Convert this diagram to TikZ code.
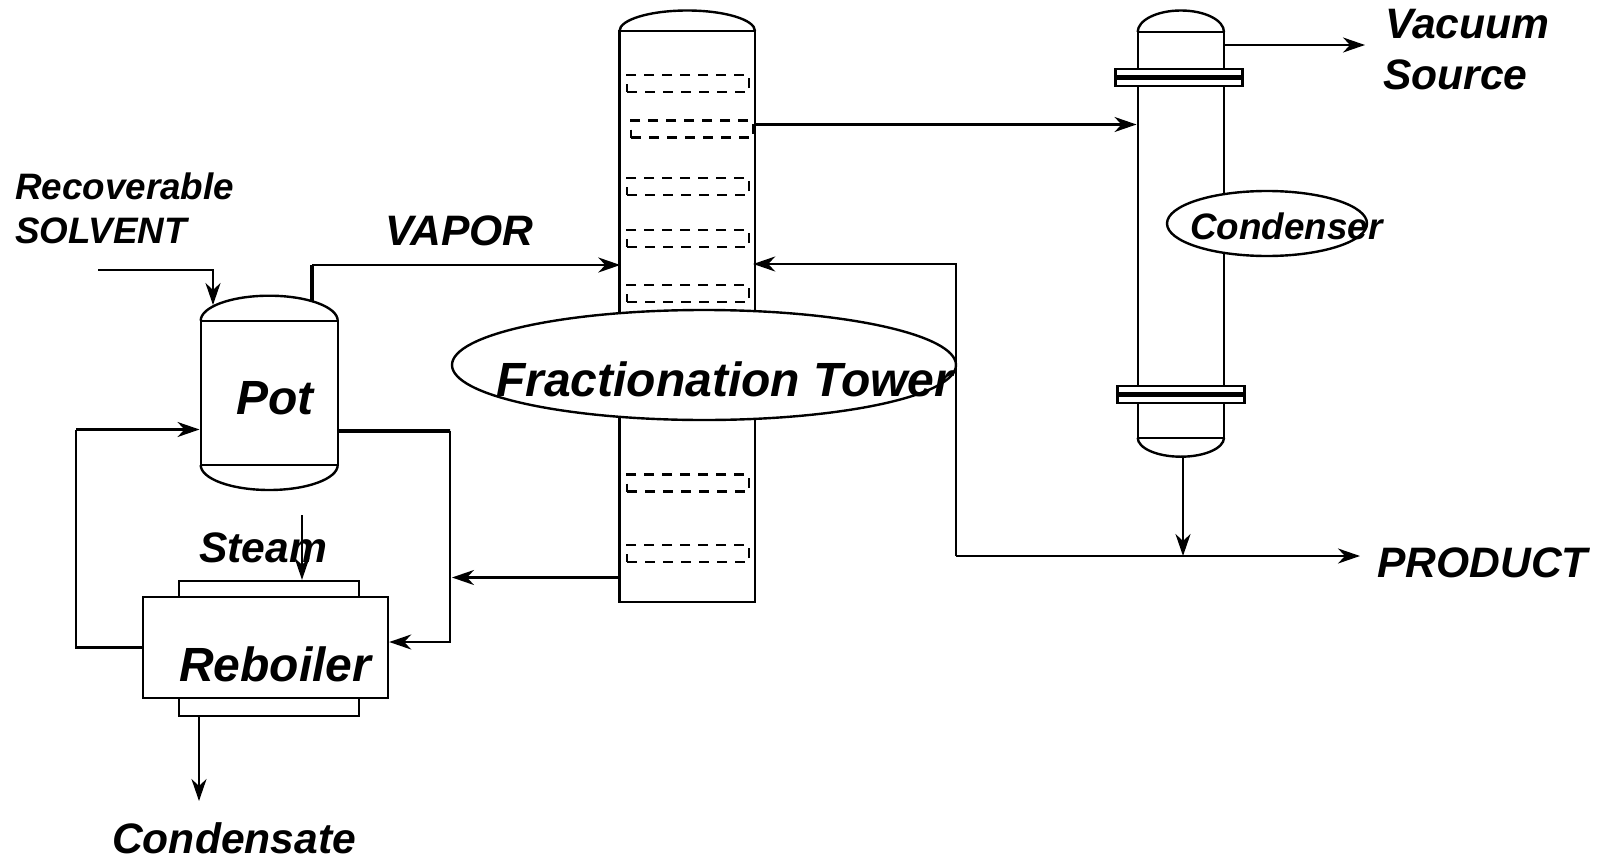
\documentclass[tikz,border=0pt]{standalone}
\usepackage{fontspec}
\setmainfont{Liberation Sans}
\usetikzlibrary{positioning, shapes.geometric, arrows.meta}
\tikzstyle{vessel} = [rectangle, draw=black, line width=2.4pt, inner sep=0pt, fill=white]
\tikzstyle{tray} = [rectangle, draw=black, line width=2.4pt, dash pattern=on 10pt off 8pt, inner sep=0pt, minimum width=122pt, minimum height=17pt]
\tikzstyle{flange} = [vessel, minimum width=127pt, minimum height=17pt]
\tikzstyle{oval} = [ellipse, draw=black, line width=2.4pt, fill=white, inner sep=0pt]
\tikzstyle{arrow} = [line width=2.4pt,->,>={Stealth[length=22pt,width=15pt,inset=7pt]}]
\tikzstyle{line} = [line width=2.4pt]
\tikzstyle{heavy} = [line width=3.6pt]
\tikzstyle{large} = [anchor=base west, inner sep=0pt, font=\fontsize{48}{48}\selectfont\bfseries\itshape]
\tikzstyle{medium} = [anchor=base west, inner sep=0pt, font=\fontsize{42.6}{42.6}\selectfont\bfseries\itshape]
\tikzstyle{small} = [anchor=base west, inner sep=0pt, font=\fontsize{36.8}{36.8}\selectfont\bfseries\itshape]
\NewDocumentCommand\Tray{m m m}{%
    \node (#1) [tray] at (#2,#3) {};
}
\NewDocumentCommand\Flange{m m m}{%
    \node (#1) [flange] at (#2,#3) {};
    \draw[line width=4.5pt] (#1.west) -- (#1.east);
}
\begin{document}
\begin{tikzpicture}[x=1pt, y=-1pt]
\useasboundingbox (0,0) rectangle (1600,859);

% Tower
\draw[line] (619.5,31) arc[start angle=180, end angle=360, x radius=67.75, y radius=20.5];
\node (TOWER) [vessel, minimum width=135.5pt, minimum height=571pt] at (687.25,316.5) {};
\Tray{TRAY1}{688}{83.5}
\Tray{TRAY2}{692}{129}
\Tray{TRAY3}{688}{186.5}
\Tray{TRAY4}{688}{238.5}
\Tray{TRAY5}{688}{293.5}
\Tray{TRAY6}{688}{483}
\Tray{TRAY7}{688}{553.5}

% Pot
\draw[line] (200.7,320.7) arc[start angle=180, end angle=360, x radius=68.5, y radius=25];
\draw[line] (200.7,465) arc[start angle=180, end angle=0, x radius=68.5, y radius=25];
\node (POT) [vessel, minimum width=137pt, minimum height=144.3pt] at (269.2,392.85) {};
\coordinate (POT_TOP) at (213,305);
\coordinate (POT_OUT) at (312,302);

% Reboiler
\node (JACKET_TOP) [vessel, minimum width=180.5pt, minimum height=16pt] at (269,589) {};
\node (JACKET_BOT) [vessel, minimum width=180.5pt, minimum height=18pt] at (269,707) {};
\node (REBOILER) [vessel, minimum width=245pt, minimum height=101pt] at (265.5,647.5) {};

% Condenser
\draw[line] (1137.7,32) arc[start angle=180, end angle=360, x radius=43.15, y radius=21.5];
\draw[line] (1137.7,437.7) arc[start angle=180, end angle=0, x radius=43.15, y radius=19];
\node (CONDENSER) [vessel, minimum width=86.3pt, minimum height=405.7pt] at (1180.85,234.85) {};
\Flange{FLANGE1}{1179}{77.5}
\Flange{FLANGE2}{1181}{394.5}
\coordinate (CONDENSER_BOT) at (1183,457);

% Free ends and corners
\coordinate (SOLVENT_IN) at (98,270);
\coordinate (VAPOR_CORNER) at (312,265);
\coordinate (LOOP_CORNER) at (76,429.5);
\coordinate (POT_CORNER) at (450,431);
\coordinate (STEAM_IN) at (302,515);
\coordinate (CONDENSATE_OUT) at (199,801);
\coordinate (RETURN_END) at (452,577.5);
\coordinate (REFLUX_CORNER) at (956,264);
\coordinate (PRODUCT_START) at (956,556);
\coordinate (PRODUCT_OUT) at (1360,556);
\coordinate (VACUUM_OUT) at (1365,45);

% Arrows
\draw[arrow] (SOLVENT_IN) -| (POT_TOP);
\draw[heavy] (POT_OUT) -- (VAPOR_CORNER);
\draw[arrow] (VAPOR_CORNER) -- ([xshift=2pt,yshift=51.5pt]TOWER.west);
\draw[line] (REBOILER.west) -| (LOOP_CORNER);
\draw[arrow] (LOOP_CORNER) -- (POT.west |- LOOP_CORNER);
\draw[heavy] ([yshift=-38.1pt]POT.east) -- (POT_CORNER);
\draw[arrow] (POT_CORNER) |- ([yshift=5.5pt]REBOILER.east);
\draw[arrow] (TOWER.west |- RETURN_END) -- (RETURN_END);
\draw[arrow] (TOWER.east |- 0,124.5) -- (CONDENSER.west |- 0,124.5);
\draw[arrow] (CONDENSER.east |- 0,45) -- (VACUUM_OUT);
\draw[arrow] (CONDENSER_BOT) -- (CONDENSER_BOT |- PRODUCT_START);
\draw[arrow] (PRODUCT_START) -- (PRODUCT_OUT);
\draw[arrow] (PRODUCT_START) -- (REFLUX_CORNER) -- ([xshift=-3pt]TOWER.east |- REFLUX_CORNER);
\draw[arrow] (JACKET_BOT.south -| CONDENSATE_OUT) -- (CONDENSATE_OUT);

% Ovals and labels
\node (TOWER_OVAL) [oval, minimum width=504pt, minimum height=110pt] at (704,365) {};
\node (CONDENSER_OVAL) [oval, minimum width=200pt, minimum height=65pt] at (1267,223.5) {};

\node (TOWER_TEXT) [large] at (496,396) {Fractionation Tower};
\node (POT_TEXT) [large] at (236,414) {Pot};
\node (REBOILER_TEXT) [large] at (179,681) {Reboiler};
\node (STEAM_TEXT) [medium] at (199,562) {Steam};
\node (VAPOR_TEXT) [medium] at (385,245) {VAPOR};
\node (CONDENSATE_TEXT) [medium] at (112,853) {Condensate};
\node (PRODUCT_TEXT) [medium] at (1377,577) {PRODUCT};
\node (VACUUM_TEXT) [medium] at (1385,38) {Vacuum};
\node (SOURCE_TEXT) [medium] at (1383,89) {Source};
\node (RECOVERABLE_TEXT) [small] at (15,199) {Recoverable};
\node (SOLVENT_TEXT) [small] at (15,243) {SOLVENT};
\node (CONDENSER_TEXT) [small] at (1190,239) {Condenser};

\draw[line width=1.6pt,->,>={Stealth[length=22pt,width=15pt,inset=7pt]}] (STEAM_IN) -- (JACKET_TOP.north -| STEAM_IN);

\end{tikzpicture}
\end{document}
